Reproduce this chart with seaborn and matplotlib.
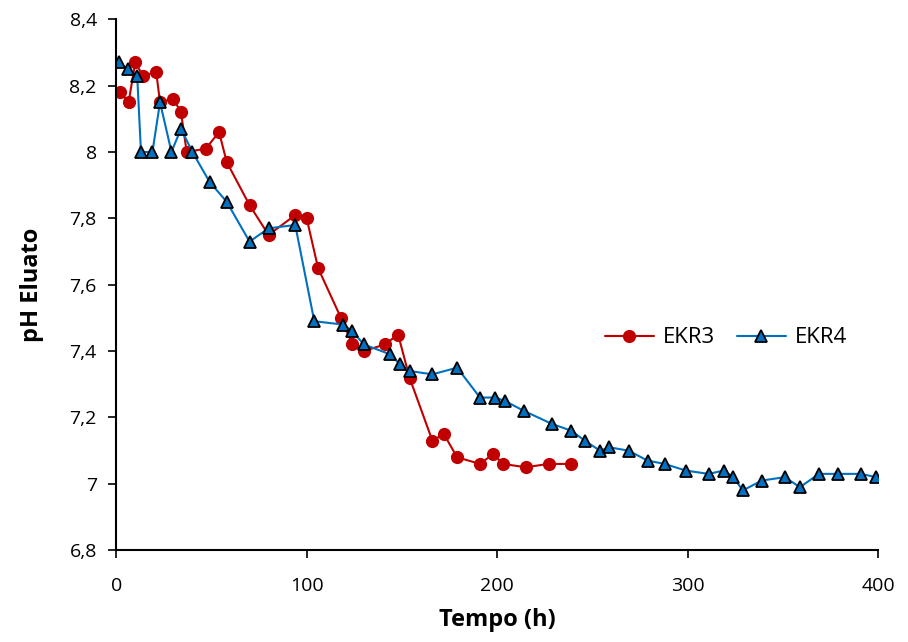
import matplotlib
matplotlib.use('Agg')
import matplotlib.pyplot as plt
import seaborn as sns
import pandas as pd

# --- DATI ---
tempo_ekr3 = [2, 6.5, 10, 14, 21, 23, 30, 34, 37, 47, 54, 58, 70, 80, 94, 100, 106, 118,
              124, 130, 141, 148, 154, 166, 172, 179, 191, 198, 203, 215, 227, 239]
ph_ekr3 = [8.18, 8.15, 8.27, 8.23, 8.24, 8.15, 8.16, 8.12, 8.00, 8.01, 8.06, 7.97, 7.84, 7.75,
           7.81, 7.80, 7.65, 7.50, 7.42, 7.40, 7.42, 7.45, 7.32, 7.13, 7.15, 7.08, 7.06, 7.09,
           7.06, 7.05, 7.06, 7.06]

tempo_ekr4 = [1.5, 6, 11, 13, 19, 23, 29, 34, 40, 49, 58, 70, 80, 94, 104, 119, 124, 130,
              144, 149, 154, 166, 179, 191, 199, 204, 214, 229, 239, 246, 254, 259, 269, 279,
              288, 299, 311, 319, 324, 329, 339, 351, 359, 369, 379, 391, 399]
ph_ekr4 = [8.27, 8.25, 8.23, 8.00, 8.00, 8.15, 8.00, 8.07, 8.00, 7.91, 7.85, 7.73, 7.77, 7.78,
           7.49, 7.48, 7.46, 7.42, 7.39, 7.36, 7.34, 7.33, 7.35, 7.26, 7.26, 7.25, 7.22, 7.18,
           7.16, 7.13, 7.10, 7.11, 7.10, 7.07, 7.06, 7.04, 7.03, 7.04, 7.02, 6.98, 7.01, 7.02,
           6.99, 7.03, 7.03, 7.03, 7.02]

y_ticks = [6.8, 7.0, 7.2, 7.4, 7.6, 7.8, 8.0, 8.2, 8.4]
y_labels = ['6,8', '7', '7,2', '7,4', '7,6', '7,8', '8', '8,2', '8,4']
x_ticks = [0, 100, 200, 300, 400]

sns.set_style("white")
plt.rcParams['font.family'] = ['Open Sans', 'DejaVu Sans']
plt.rcParams['text.color'] = 'black'
plt.rcParams['axes.labelcolor'] = 'black'
plt.rcParams['xtick.color'] = 'black'
plt.rcParams['ytick.color'] = 'black'

df3 = pd.DataFrame({'t': tempo_ekr3, 'ph': ph_ekr3})
df4 = pd.DataFrame({'t': tempo_ekr4, 'ph': ph_ekr4})

fig, ax = plt.subplots(figsize=(9.08, 6.42), dpi=100)
fig.subplots_adjust(left=0.128, right=0.967, top=0.970, bottom=0.143)

sns.lineplot(data=df3, x='t', y='ph', ax=ax, color='#C00000', linewidth=1.5,
             marker='o', markersize=9.5, markeredgewidth=0, label='EKR3', sort=False)
sns.lineplot(data=df4, x='t', y='ph', ax=ax, color='#0070C0', linewidth=1.5,
             marker='^', markersize=8.5, markeredgecolor='black', markeredgewidth=1.3,
             label='EKR4', sort=False)

ax.set_xlim(0, 400)
ax.set_ylim(6.8, 8.4)
ax.set_xticks(x_ticks)
ax.set_yticks(y_ticks)
ax.set_yticklabels(y_labels)
ax.tick_params(axis='both', labelsize=14, direction='out', length=6, width=1.2,
               color='black', labelcolor='black', left=True, bottom=True)
ax.tick_params(axis='x', pad=13)
ax.tick_params(axis='y', pad=8)

for s in ['top', 'right']:
    ax.spines[s].set_visible(False)
for s in ['left', 'bottom']:
    ax.spines[s].set_color('black')
    ax.spines[s].set_linewidth(1.5)

ax.set_xlabel("Tempo (h)", fontsize=17, fontweight='bold', labelpad=10, color='black')
ax.set_ylabel("pH Eluato", fontsize=17, fontweight='bold', labelpad=18, color='black')

ax.legend(loc='center left', bbox_to_anchor=(0.615, 0.40), ncol=2, frameon=False,
          fontsize=16, handlelength=2.2, columnspacing=1.0, handletextpad=0.4,
          labelcolor='black')

plt.savefig("out.png", dpi=100)
plt.close()
